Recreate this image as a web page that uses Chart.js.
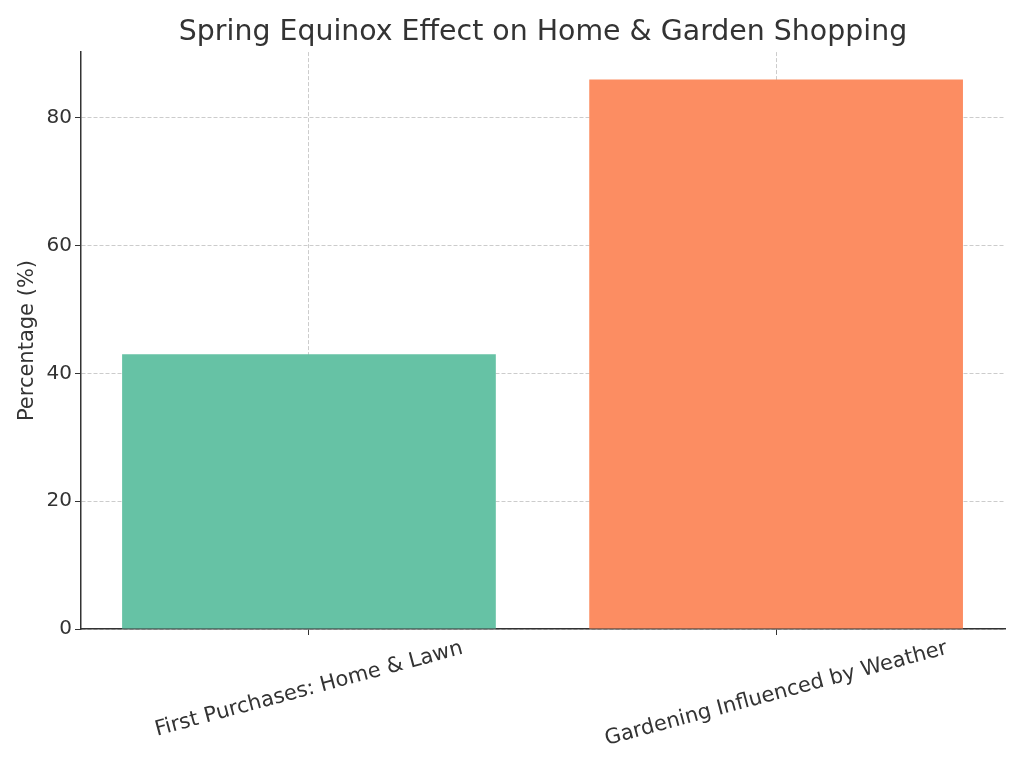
<!DOCTYPE html>
<html>
<head>
<meta charset="utf-8">
<script src="https://cdn.jsdelivr.net/npm/chart.js@4"></script>
<style>
  html, body { margin: 0; padding: 0; background: #fff; }
  #wrap { width: 1024px; height: 768px; }
</style>
</head>
<body>
<div id="wrap"><canvas id="myChart" width="1024" height="768"></canvas></div>
<script>
const categories = ["First Purchases: Home & Lawn", "Gardening Influenced by Weather"];
const percentages = [43, 86];
const yTicks = [0, 20, 40, 60, 80];

const barColors = ["#66c2a5", "#fc8d62"];
const textColor = "#333333";
const gridColor = "rgba(170,170,170,0.6)";
const fontFamily = "'DejaVu Sans', sans-serif";

// draw the x labels centred under each tick, tilted 15 degrees
const tiltedLabels = {
  id: "tiltedLabels",
  afterDraw(chart) {
    const ctx = chart.ctx;
    const xScale = chart.scales.x;
    const angle = 15 * Math.PI / 180;
    const size = 21;
    ctx.save();
    ctx.font = size + "px " + fontFamily;
    ctx.fillStyle = textColor;
    ctx.textAlign = "center";
    ctx.textBaseline = "middle";
    categories.forEach((label, i) => {
      const x = xScale.getPixelForValue(i);
      const w = ctx.measureText(label).width;
      const boxH = w * Math.sin(angle) + size * Math.cos(angle);
      const y = xScale.top + 9 + boxH / 2;
      ctx.save();
      ctx.translate(x, y);
      ctx.rotate(-angle);
      ctx.fillText(label, 0, 0);
      ctx.restore();
    });
    ctx.restore();
  }
};

new Chart(document.getElementById("myChart"), {
  type: "bar",
  data: {
    datasets: [{
      data: percentages.map((v, i) => ({ x: i, y: v })),
      backgroundColor: barColors,
      borderWidth: 0,
      categoryPercentage: 1,
      barPercentage: 0.8,
    }],
  },
  options: {
    responsive: false,
    animation: false,
    layout: { padding: { left: 0, right: 19, top: 0, bottom: 0 } },
    plugins: {
      legend: { display: false },
      tooltip: { enabled: false },
      title: {
        display: true,
        text: "Spring Equinox Effect on Home & Garden Shopping",
        color: textColor,
        fullSize: false,
        font: { family: fontFamily, size: 28.4, weight: "normal" },
        padding: { top: 16, bottom: 2 },
      },
    },
    scales: {
      x: {
        type: "linear",
        z: 1,
        offset: false,
        min: -0.488,
        max: 1.49,
        afterFit: (scale) => { scale.height = 139; },
        afterBuildTicks: (scale) => { scale.ticks = categories.map((c, i) => ({ value: i })); },
        ticks: { display: false },
        grid: {
          offset: false,
          color: gridColor,
          tickColor: textColor,
          tickLength: 6,
        },
        border: { color: textColor, width: 1.5, dash: [4, 2] },
      },
      y: {
        z: 1,
        min: 0,
        max: 90.3,
        afterFit: (scale) => { scale.width = 81; },
        afterBuildTicks: (scale) => { scale.ticks = yTicks.map((v) => ({ value: v })); },
        ticks: {
          color: textColor,
          padding: 3,
          font: { family: fontFamily, size: 20 },
        },
        grid: {
          color: gridColor,
          tickColor: textColor,
          tickLength: 6,
        },
        border: { color: textColor, width: 1.5, dash: [4, 2] },
        title: {
          display: true,
          text: "Percentage (%)",
          color: textColor,
          font: { family: fontFamily, size: 21 },
          padding: { top: 15, bottom: 0 },
        },
      },
    },
  },
  plugins: [tiltedLabels],
});
</script>
</body>
</html>
